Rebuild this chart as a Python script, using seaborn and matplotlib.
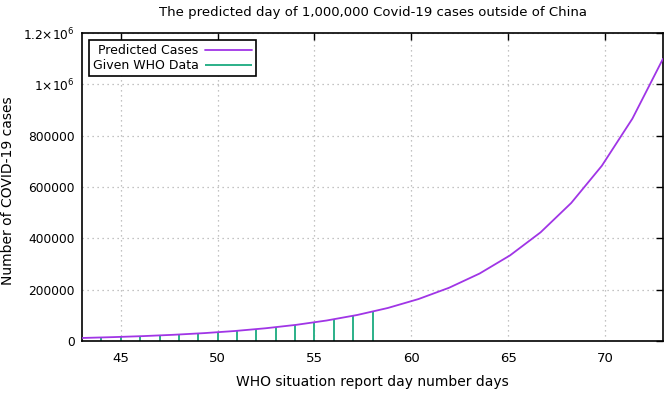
import numpy as np
import pandas as pd
import matplotlib
matplotlib.use("Agg")
import matplotlib.pyplot as plt
import seaborn as sns

# --- data ---
# predicted curve (20 samples across the x range)
pred_days = [43.0, 44.58, 46.16, 47.74, 49.32, 50.89, 52.47, 54.05, 55.63, 57.21,
             58.79, 60.37, 61.95, 63.53, 65.1, 66.68, 68.26, 69.84, 71.42, 73.0]
pred_cases = [11800, 15100, 19100, 24300, 30800, 39000, 49600, 62900, 79900, 101400,
              128700, 163400, 207400, 263000, 333600, 423600, 537900, 682700, 866600, 1100000]

# given WHO data (impulses)
who_days = [44, 45, 46, 47, 48, 49, 50, 51, 52, 53, 54, 55, 56, 57, 58]
who_cases = [12700, 14800, 17500, 21100, 24700, 28700, 32800, 37400, 44100, 53600,
             62000, 72500, 86400, 99000, 116000]

y_ticks = [0, 200000, 400000, 600000, 800000, 1000000, 1200000]
y_tick_labels = ["0", "200000", "400000", "600000", "800000",
                 r"$1{\times}10^6$", r"$1.2{\times}10^6$"]
x_ticks = [45, 50, 55, 60, 65, 70]

PURPLE = "#a035e6"
GREEN = "#2bb088"

sns.set_style("white")
plt.rcParams["font.family"] = ["DejaVu Sans"]
plt.rcParams["mathtext.fontset"] = "dejavusans"
plt.rcParams["text.color"] = "black"
plt.rcParams["axes.labelcolor"] = "black"

df_pred = pd.DataFrame({"day": pred_days, "cases": pred_cases})

fig = plt.figure(figsize=(6.67, 3.94), dpi=100)
ax = fig.add_axes([0.123, 0.1345, 0.871, 0.7815])

# impulses for the WHO data
ax.vlines(who_days, 0, who_cases, color=GREEN, lw=1.4, label="Given WHO Data", zorder=2)
sns.lineplot(data=df_pred, x="day", y="cases", color=PURPLE, lw=1.3,
             label="Predicted Cases", ax=ax, zorder=3)

ax.set_xlim(43, 73)
ax.set_ylim(0, 1200000)
ax.set_xticks(x_ticks)
ax.set_yticks(y_ticks)
ax.set_yticklabels(y_tick_labels)
ax.tick_params(direction="in", length=5, width=1, labelsize=8.8, colors="black",
               top=True, right=True, labeltop=False, labelright=False)
ax.tick_params(axis="x", pad=8, labelsize=9.5)
ax.tick_params(axis="y", pad=5)
ax.grid(True, color="#b0b0b0", linestyle=(0, (1, 3)), lw=0.9)
for s in ax.spines.values():
    s.set_color("black")
    s.set_linewidth(1.2)

ax.set_title("The predicted day of 1,000,000 Covid-19 cases outside of China",
             fontsize=9.5, pad=12, color="black")
ax.set_xlabel("WHO situation report day number days", fontsize=10)
ax.set_ylabel("Number of COVID-19 cases", fontsize=10)
ax.xaxis.set_label_coords(0.5, -0.112)
ax.yaxis.set_label_coords(-0.115, 0.487)

handles, labels = ax.get_legend_handles_labels()
order = [labels.index("Predicted Cases"), labels.index("Given WHO Data")]
leg = ax.legend([handles[i] for i in order], [labels[i] for i in order],
                loc="upper left", bbox_to_anchor=(0.012, 0.977), borderaxespad=0,
                markerfirst=False, handlelength=3.8, fontsize=9, fancybox=False,
                frameon=True, edgecolor="black", framealpha=1, borderpad=0.3,
                labelspacing=0.2, handletextpad=0.5)
leg.get_frame().set_linewidth(1.2)

fig.savefig("out.png", dpi=100)
